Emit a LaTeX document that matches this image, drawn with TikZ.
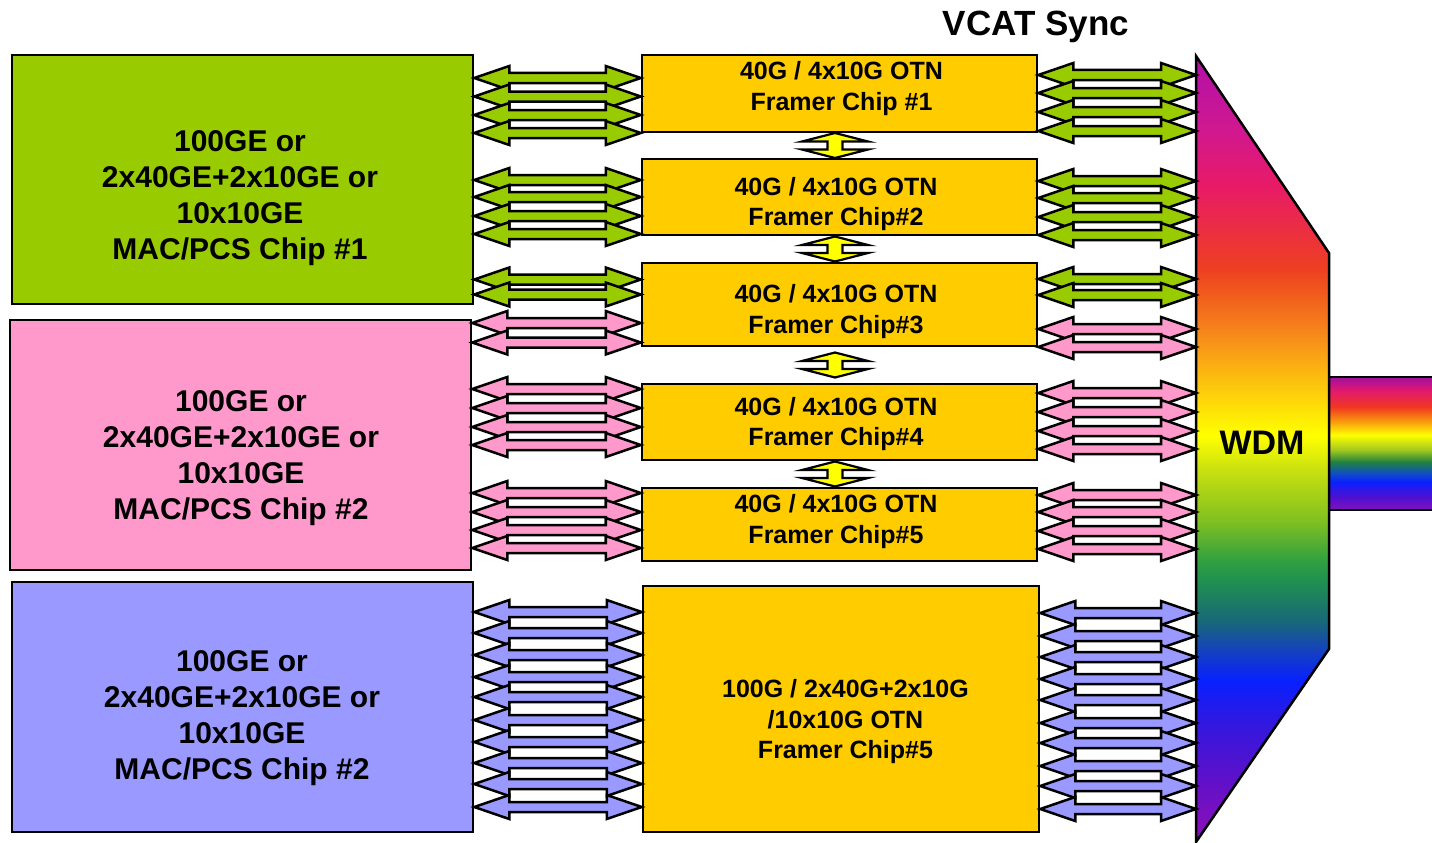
\documentclass[tikz,border=0pt]{standalone}
\usepackage{fontspec}
\setmainfont{Liberation Sans}
\usetikzlibrary{calc}

\definecolor{gfill}{HTML}{99CC00}
\definecolor{pfill}{HTML}{FF99CC}
\definecolor{bfill}{HTML}{9999FF}
\definecolor{yfill}{HTML}{FFCC00}
\definecolor{sfill}{HTML}{FFFF00}

% WDM rainbow colours (top to bottom)
\definecolor{wa}{HTML}{B010A8}
\definecolor{wb}{HTML}{D01890}
\definecolor{wc}{HTML}{E81A68}
\definecolor{wd}{HTML}{EE4020}
\definecolor{we}{HTML}{F7901A}
\definecolor{wf}{HTML}{FBB510}
\definecolor{wg}{HTML}{FFFF00}
\definecolor{wh}{HTML}{C8E010}
\definecolor{wi}{HTML}{80C020}
\definecolor{wj}{HTML}{30A040}
\definecolor{wk}{HTML}{209050}
\definecolor{wl}{HTML}{186878}
\definecolor{wm}{HTML}{1440C0}
\definecolor{wn}{HTML}{0820FF}
\definecolor{wo}{HTML}{3018E0}
\definecolor{wp}{HTML}{6010C8}
\definecolor{wq}{HTML}{9010B8}

% bar colours (top to bottom)
\definecolor{ba}{HTML}{A010A0}
\definecolor{bb}{HTML}{E01870}
\definecolor{bc}{HTML}{F03820}
\definecolor{bd}{HTML}{F89010}
\definecolor{be}{HTML}{FFFF00}
\definecolor{bf}{HTML}{A0C820}
\definecolor{bg}{HTML}{208040}
\definecolor{bh}{HTML}{1050C0}
\definecolor{bi}{HTML}{0A20FF}
\definecolor{bj}{HTML}{5010D0}
\definecolor{bk}{HTML}{8010C0}

\pgfdeclareverticalshading{wdmshade}{100bp}{%
color(0bp)=(wq); color(25bp)=(wq); color(28.83bp)=(wp); color(32.66bp)=(wo);
color(35.22bp)=(wn); color(37.13bp)=(wm); color(39.05bp)=(wl); color(41.6bp)=(wk);
color(42.88bp)=(wj); color(45.43bp)=(wi); color(48.63bp)=(wh); color(50.86bp)=(wg);
color(55.01bp)=(wf); color(56.93bp)=(we); color(61.4bp)=(wd); color(66.83bp)=(wc);
color(70.34bp)=(wb); color(75bp)=(wa); color(100bp)=(wa)}

\pgfdeclareverticalshading{barshade}{100bp}{%
color(0bp)=(bk); color(25bp)=(bk); color(29.89bp)=(bj); color(35.53bp)=(bi);
color(38.91bp)=(bh); color(43.05bp)=(bg); color(47.56bp)=(bf); color(53.2bp)=(be);
color(58.83bp)=(bd); color(63.72bp)=(bc); color(70.11bp)=(bb); color(75bp)=(ba);
color(100bp)=(ba)}

\tikzset{
  box/.style={draw=black, line width=2.5pt, inner sep=0pt, rectangle},
  macbox/.style={box, minimum width=461pt, minimum height=250pt},
  chipbox/.style={box, fill=yfill, minimum width=395pt},
  mactext/.style={font=\fontsize{30}{36}\selectfont\bfseries, align=center, inner sep=0pt},
  chiptext/.style={font=\fontsize{25}{30.5}\selectfont\bfseries, align=center, inner sep=0pt},
  arrbase/.style={draw=black, line width=2.5pt},
  garr/.style={arrbase, fill=gfill},
  parr/.style={arrbase, fill=pfill},
  barr/.style={arrbase, fill=bfill},
  sarr/.style={draw=black, line width=2.2pt, fill=sfill},
}

\newcommand\fatarr[4]{%
  \draw[#1] let \p1=(#2), \p2=(#3), \p3=(0,#4) in
  (\x1,\y3) -- (\x1+35pt,\y3+12pt) -- (\x1+35pt,\y3+5pt) -- (\x2-35pt,\y3+5pt)
  -- (\x2-35pt,\y3+12pt) -- (\x2,\y3) -- (\x2-35pt,\y3-12pt) -- (\x2-35pt,\y3-5pt)
  -- (\x1+35pt,\y3-5pt) -- (\x1+35pt,\y3-12pt) -- cycle;}

\newcommand\vdarr[2]{%
  \draw[sarr] let \p1=($(#1.south)!0.5!(#2.north)$) in
  (\x1-4.5pt,\y1+12.5pt) -- (\x1+28.5pt,\y1+4pt) -- (\x1+3pt,\y1+4pt) -- (\x1+3pt,\y1-4pt)
  -- (\x1+28.5pt,\y1-4pt) -- (\x1-4.5pt,\y1-12.5pt) -- (\x1-37.5pt,\y1-4pt)
  -- (\x1-12pt,\y1-4pt) -- (\x1-12pt,\y1+4pt) -- (\x1-37.5pt,\y1+4pt) -- cycle;}

\begin{document}
\begin{tikzpicture}[x=1pt,y=-1pt]
\useasboundingbox (0,0) rectangle (1432,843);

% MAC/PCS chips
\node[macbox, fill=gfill, minimum height=249pt] (mac1) at (242.5,179.5) {};
\node[macbox, fill=pfill] (mac2) at (240.5,445) {};
\node[macbox, fill=bfill] (mac3) at (242.5,707) {};
\node[mactext] at (240,198) {100GE or\\2x40GE+2x10GE or\\10x10GE\\MAC/PCS Chip \#1};
\node[mactext] at (241,458.5) {100GE or\\2x40GE+2x10GE or\\10x10GE\\MAC/PCS Chip \#2};
\node[mactext] at (242,718) {100GE or\\2x40GE+2x10GE or\\10x10GE\\MAC/PCS Chip \#2};

% framer chips
\node[chipbox, minimum height=77pt] (f1) at (839.5,93.5) {};
\node[chipbox, minimum height=76pt] (f2) at (839.5,197) {};
\node[chipbox, minimum height=83pt] (f3) at (839.5,304.5) {};
\node[chipbox, minimum height=76pt] (f4) at (839.5,422) {};
\node[chipbox, minimum height=73pt] (f5) at (839.5,524.5) {};
\node[chipbox, minimum width=396pt, minimum height=246pt] (f6) at (841,709) {};
\node[chiptext] at (841.5,88.6) {40G / 4x10G OTN\\Framer Chip \#1};
\node[chiptext] at (836,204) {40G / 4x10G OTN\\Framer Chip\#2};
\node[chiptext] at (836,311.6) {40G / 4x10G OTN\\Framer Chip\#3};
\node[chiptext] at (836,424) {40G / 4x10G OTN\\Framer Chip\#4};
\node[chiptext] at (836,521.6) {40G / 4x10G OTN\\Framer Chip\#5};
\node[chiptext] at (845.5,722) {100G / 2x40G+2x10G\\/10x10G OTN\\Framer Chip\#5};

% VCAT sync arrows
\vdarr{f1}{f2}
\vdarr{f2}{f3}
\vdarr{f3}{f4}
\vdarr{f4}{f5}

% WDM and output bar
\coordinate (wdmL) at (1196,450);
\shadedraw[shading=barshade, line width=2.5pt] (1329,377) rectangle (1445,510);
\shadedraw[shading=wdmshade, line width=2.5pt] (1196,56) -- (1329,253) -- (1329,649) -- (1196,842) -- cycle;
\node[font=\fontsize{34}{40}\selectfont\bfseries, inner sep=0pt] (wdm) at (1262,443) {WDM};
\node[font=\fontsize{35}{40}\selectfont\bfseries, inner sep=0pt] (vcat) at (1036,26.5) {VCAT Sync};

% left arrows
\foreach \yy in {78,96.5,115,133} {\fatarr{garr}{mac1.east}{f1.west}{\yy}}
\foreach \yy in {180,197,216,234} {\fatarr{garr}{mac1.east}{f2.west}{\yy}}
\foreach \yy in {279.5,294.5} {\fatarr{garr}{mac1.east}{f3.west}{\yy}}
\foreach \yy in {323,342.5} {\fatarr{parr}{mac2.east}{f3.west}{\yy}}
\foreach \yy in {389,408,427,445} {\fatarr{parr}{mac2.east}{f4.west}{\yy}}
\foreach \yy in {493,512,530,548} {\fatarr{parr}{mac2.east}{f5.west}{\yy}}
\foreach \yy in {612,633,655,677,697,720,742,763,784,807} {\fatarr{barr}{mac3.east}{f6.west}{\yy}}

% right arrows
\foreach \yy in {75,93,112,131} {\fatarr{garr}{f1.east}{wdmL}{\yy}}
\foreach \yy in {181,198,217,235} {\fatarr{garr}{f2.east}{wdmL}{\yy}}
\foreach \yy in {279,295} {\fatarr{garr}{f3.east}{wdmL}{\yy}}
\foreach \yy in {329,347} {\fatarr{parr}{f3.east}{wdmL}{\yy}}
\foreach \yy in {393,412,431,449} {\fatarr{parr}{f4.east}{wdmL}{\yy}}
\foreach \yy in {495,512,531,549} {\fatarr{parr}{f5.east}{wdmL}{\yy}}
\foreach \yy in {613,636,657,679,700,723,743,766,786,809} {\fatarr{barr}{f6.east}{wdmL}{\yy}}
\end{tikzpicture}
\end{document}
